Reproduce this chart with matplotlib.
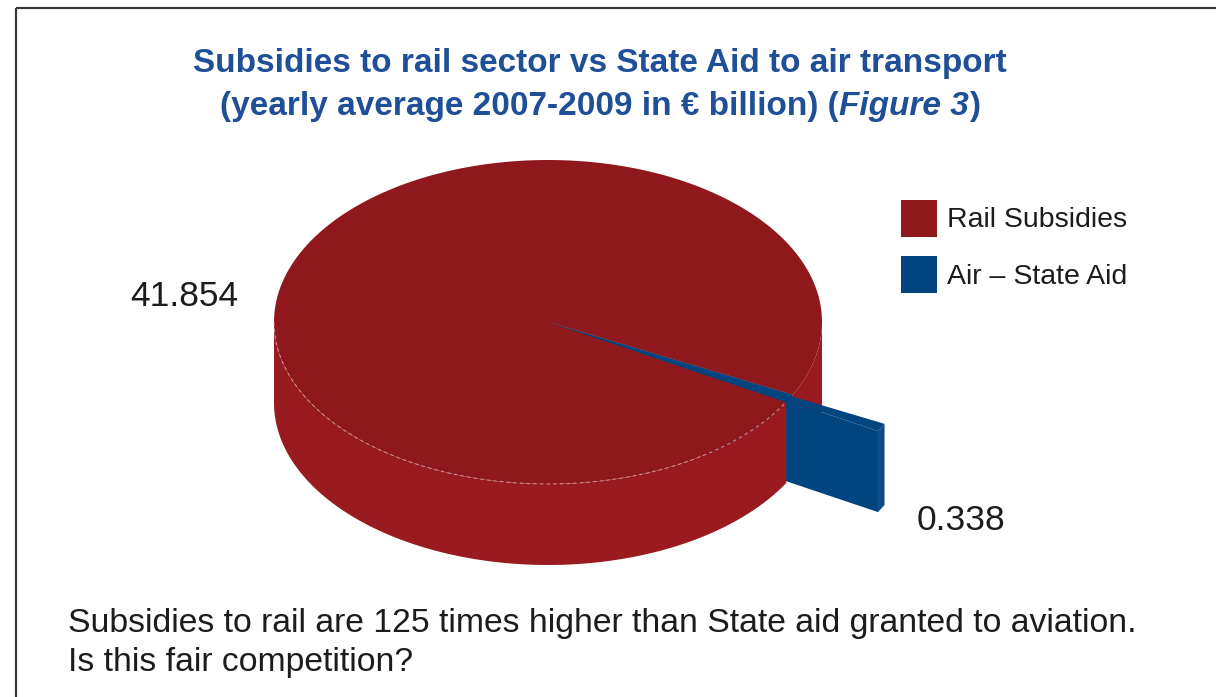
import numpy as np
import matplotlib
matplotlib.use("Agg")
from matplotlib import pyplot as plt
from matplotlib.patches import Polygon, Rectangle

plt.rcParams['font.family'] = ['Liberation Sans', 'DejaVu Sans']

# yearly average 2007-2009, EUR billion
labels = ["Rail Subsidies", "Air \u2013 State Aid"]
values = [41.854, 0.338]
value_text = ["41.854", "0.338"]

RAIL_TOP = '#8e181c'
RAIL_SIDE = '#991b20'
RAIL_CUT = '#8a1a1d'
AIR = '#00457f'
AIR_RIM = '#0b4c86'
TITLE_BLUE = '#1f4f97'
INK = '#1c1c1c'

# pie geometry (pixel units of the canvas below)
cx, cy = 548, 322
rx, ry = 274, 162
depth = 81
explode = 0.38
air_start = -29.6  # lower edge of the air slice, degrees

fig = plt.figure(figsize=(12.16, 6.97), dpi=100)
ax = fig.add_axes([0, 0, 1, 1])
ax.set_xlim(0, 1216)
ax.set_ylim(697, 0)
ax.axis('off')

total = sum(values)
air_span = 360.0 * values[1] / total
t1 = np.radians(air_start)
t2 = np.radians(air_start + air_span)


def rim(t, dx=0.0, dy=0.0, z=0.0):
    return np.column_stack([cx + dx + rx * np.cos(t), cy + dy - ry * np.sin(t) + z])


def wall(a, b, color, dx=0.0, dy=0.0):
    t = np.linspace(a, b, 120)
    pts = np.vstack([rim(t, dx, dy), rim(t[::-1], dx, dy, depth)])
    ax.add_patch(Polygon(pts, closed=True, fc=color, ec='none'))


def top(a, b, color, dx=0.0, dy=0.0):
    t = np.linspace(a, b, 400)
    pts = np.vstack([[cx + dx, cy + dy], rim(t, dx, dy)])
    ax.add_patch(Polygon(pts, closed=True, fc=color, ec='none'))


# rail wall behind the exploded air slice
wall(t2, 0.0, RAIL_SIDE)
cut = np.array([[cx, cy], rim(t2)[0], rim(t2, z=depth)[0], [cx, cy + depth]])
ax.add_patch(Polygon(cut, closed=True, fc=RAIL_CUT, ec='none'))

# exploded air slice
tm = 0.5 * (t1 + t2)
sx = explode * rx * np.cos(tm)
sy = -explode * ry * np.sin(tm)
p_top = rim(t1, sx, sy)[0]
face = np.array([[cx + sx, cy + sy], p_top, p_top + [0, depth], [cx + sx, cy + sy + depth]])
ax.add_patch(Polygon(face, closed=True, fc=AIR, ec='none'))
wall(t1, t2, AIR_RIM, sx, sy)
top(t1, t2, AIR, sx, sy)

# rail wall in front, then the top faces
wall(np.pi, t1 + 2 * np.pi, RAIL_SIDE)
top(t2, t1 + 2 * np.pi, RAIL_TOP)
top(t1, t2, AIR)

# faint edge along the front rim of the top face
t = np.linspace(np.pi, t1 + 2 * np.pi, 200)
edge = rim(t)
ax.plot(edge[:, 0], edge[:, 1], color='#d9a3a3', lw=0.8, ls=(0, (3, 3)), alpha=0.8)

# value labels
ax.text(130, 306, value_text[0], fontsize=25.5, color=INK, ha='left', va='baseline')
ax.text(917, 530, value_text[1], fontsize=25.5, color=INK, ha='left', va='baseline')

# title
ax.text(600, 72, "Subsidies to rail sector vs State Aid to air transport",
        fontsize=24, fontweight='bold', color=TITLE_BLUE, ha='center', va='baseline')
renderer = fig.canvas.get_renderer()
parts = [("(yearly average 2007-2009 in \u20ac billion) (", 'normal'),
         ("Figure 3", 'italic'), (")", 'normal')]
pieces = [ax.text(0, 115, s, fontsize=24, fontweight='bold', style=st,
                  color=TITLE_BLUE, ha='left', va='baseline') for s, st in parts]
widths = [p.get_window_extent(renderer).width for p in pieces]
x = 600 - sum(widths) / 2
for p, w in zip(pieces, widths):
    p.set_x(x)
    x += w

# legend
legend_colors = [RAIL_TOP, AIR]
for i, (lab, col) in enumerate(zip(labels, legend_colors)):
    ax.add_patch(Rectangle((901, 200 + i * 56), 36, 37, fc=col, ec='none'))
    ax.text(947, 227 + i * 57, lab, fontsize=20.5, color=INK, ha='left', va='baseline')

# note under the chart
ax.text(68, 632, "Subsidies to rail are 125 times higher than State aid granted to aviation.",
        fontsize=24.3, color=INK, ha='left', va='baseline')
ax.text(68, 671, "Is this fair competition?", fontsize=24.3, color=INK, ha='left', va='baseline')

# box edges
ax.plot([16, 16], [697, 8], color='#3a3a3a', lw=1.6, solid_capstyle='butt')
ax.plot([16, 1216], [8, 8], color='#3a3a3a', lw=1.6, solid_capstyle='butt')

fig.savefig('out.png', dpi=100)
